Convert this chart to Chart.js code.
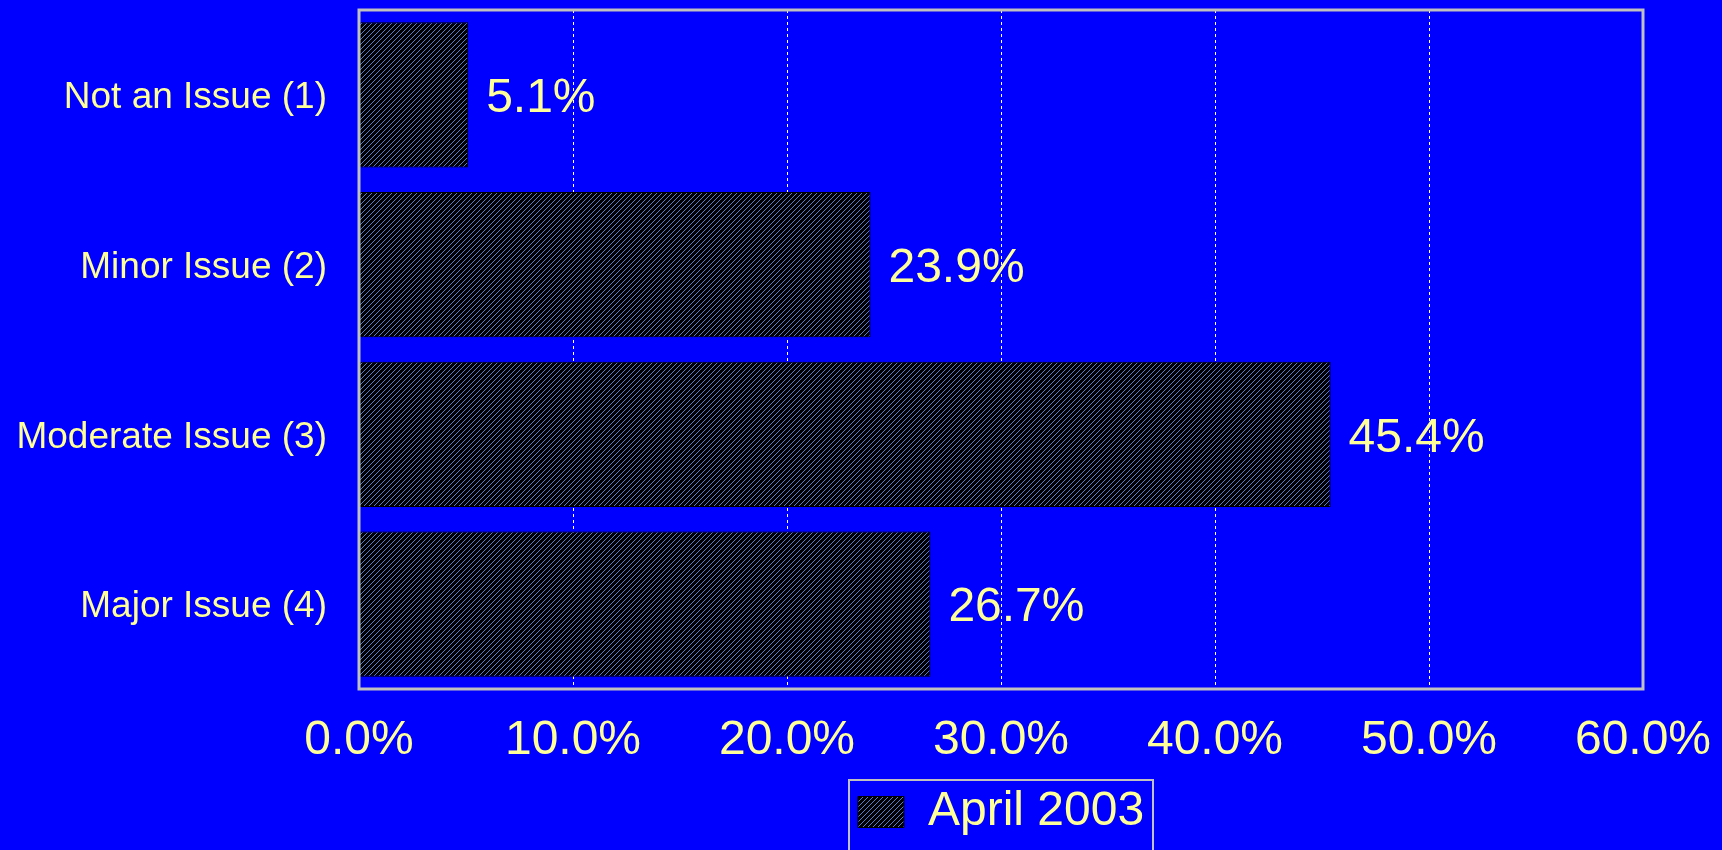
<!DOCTYPE html>
<html>
<head>
<meta charset="utf-8">
<script src="https://cdn.jsdelivr.net/npm/chart.js@4.4.0/dist/chart.umd.min.js"></script>
<style>
  html, body { margin: 0; padding: 0; background: #0000ff; overflow: hidden; }
  #wrap { width: 1722px; height: 850px; }
</style>
</head>
<body>
<div id="wrap"><canvas id="myChart"></canvas></div>
<script>
// data
var categories = ['Not an Issue (1)', 'Minor Issue (2)', 'Moderate Issue (3)', 'Major Issue (4)'];
var values = [5.1, 23.9, 45.4, 26.7];
var seriesLabel = 'April 2003';
var axisMin = 0, axisMax = 60, axisStep = 10;

var textColor = '#ffff99';
var fontFamily = '"Liberation Sans", Arial, sans-serif';

// black fill with thin blue diagonal hatching
function makeHatch() {
    var c = document.createElement('canvas');
    c.width = 5; c.height = 5;
    var g = c.getContext('2d');
    g.fillStyle = '#000000';
    g.fillRect(0, 0, 5, 5);
    g.fillStyle = '#4f80d4';
    for (var i = 0; i < 5; i++) {
        g.fillRect(i, 4 - i, 1, 1);
    }
    return g.createPattern(c, 'repeat');
}

// gray frame round the plot area + legend frame
var framePlugin = {
    id: 'frame',
    afterDatasetsDraw: function (chart) {
        var a = chart.chartArea, ctx = chart.ctx;
        ctx.save();
        ctx.strokeStyle = '#c0c0c0';
        ctx.lineWidth = 3;
        ctx.strokeRect(a.left, a.top, a.right - a.left, a.bottom - a.top);
        ctx.restore();
    },
    afterDraw: function (chart) {
        var lg = chart.legend, ctx = chart.ctx;
        if (!lg || !lg.legendHitBoxes.length) return;
        var hb = lg.legendHitBoxes[0];
        var cx = hb.left + hb.width / 2;
        ctx.save();
        ctx.strokeStyle = '#c0c0c0';
        ctx.lineWidth = 2;
        ctx.strokeRect(cx - 152, lg.top + 1, 304, 100);
        ctx.restore();
    }
};

// value labels to the right of each bar
var valueLabels = {
    id: 'valueLabels',
    afterDatasetsDraw: function (chart) {
        var ctx = chart.ctx;
        var meta = chart.getDatasetMeta(0);
        ctx.save();
        ctx.fillStyle = textColor;
        ctx.font = '48px ' + fontFamily;
        ctx.textAlign = 'left';
        ctx.textBaseline = 'middle';
        meta.data.forEach(function (bar, i) {
            ctx.fillText(values[i].toFixed(1) + '%', bar.x + 18, bar.y + 4);
        });
        ctx.restore();
    }
};

var ctx = document.getElementById('myChart').getContext('2d');
var hatch = makeHatch();
var myChart = new Chart(ctx, {
    type: 'bar',
    data: {
        labels: categories,
        datasets: [{
            label: seriesLabel,
            data: values,
            backgroundColor: hatch,
            borderColor: '#000000',
            borderWidth: 1,
            barPercentage: 1.0,
            categoryPercentage: 0.855
        }]
    },
    options: {
        indexAxis: 'y',
        responsive: true,
        maintainAspectRatio: false,
        animation: false,
        layout: { padding: { top: 10, right: 79, bottom: 4, left: 0 } },
        scales: {
            x: {
                min: axisMin,
                max: axisMax,
                ticks: {
                    stepSize: axisStep,
                    color: textColor,
                    font: { family: fontFamily, size: 48 },
                    padding: 23,
                    callback: function (v) { return v.toFixed(1) + '%'; }
                },
                grid: {
                    color: '#ffffff',
                    lineWidth: 1,
                    drawTicks: false
                },
                border: { display: false, dash: [3, 3] },
                afterFit: function (scale) {
                    scale.height = 90;
                    scale.paddingLeft = 0;
                    scale.paddingRight = 0;
                }
            },
            y: {
                ticks: {
                    color: textColor,
                    font: { family: fontFamily, size: 37 },
                    padding: 32,
                    labelOffset: 3
                },
                grid: { display: false, drawTicks: false },
                border: { display: false },
                afterFit: function (scale) {
                    scale.width = 359;
                    scale.paddingTop = 0;
                    scale.paddingBottom = 0;
                }
            }
        },
        plugins: {
            legend: {
                position: 'bottom',
                fullSize: false,
                labels: {
                    color: textColor,
                    font: { family: fontFamily, size: 48 },
                    boxWidth: 46,
                    boxHeight: 31,
                    padding: 9
                }
            },
            tooltip: { enabled: false }
        }
    },
    plugins: [framePlugin, valueLabels]
});
</script>
</body>
</html>
